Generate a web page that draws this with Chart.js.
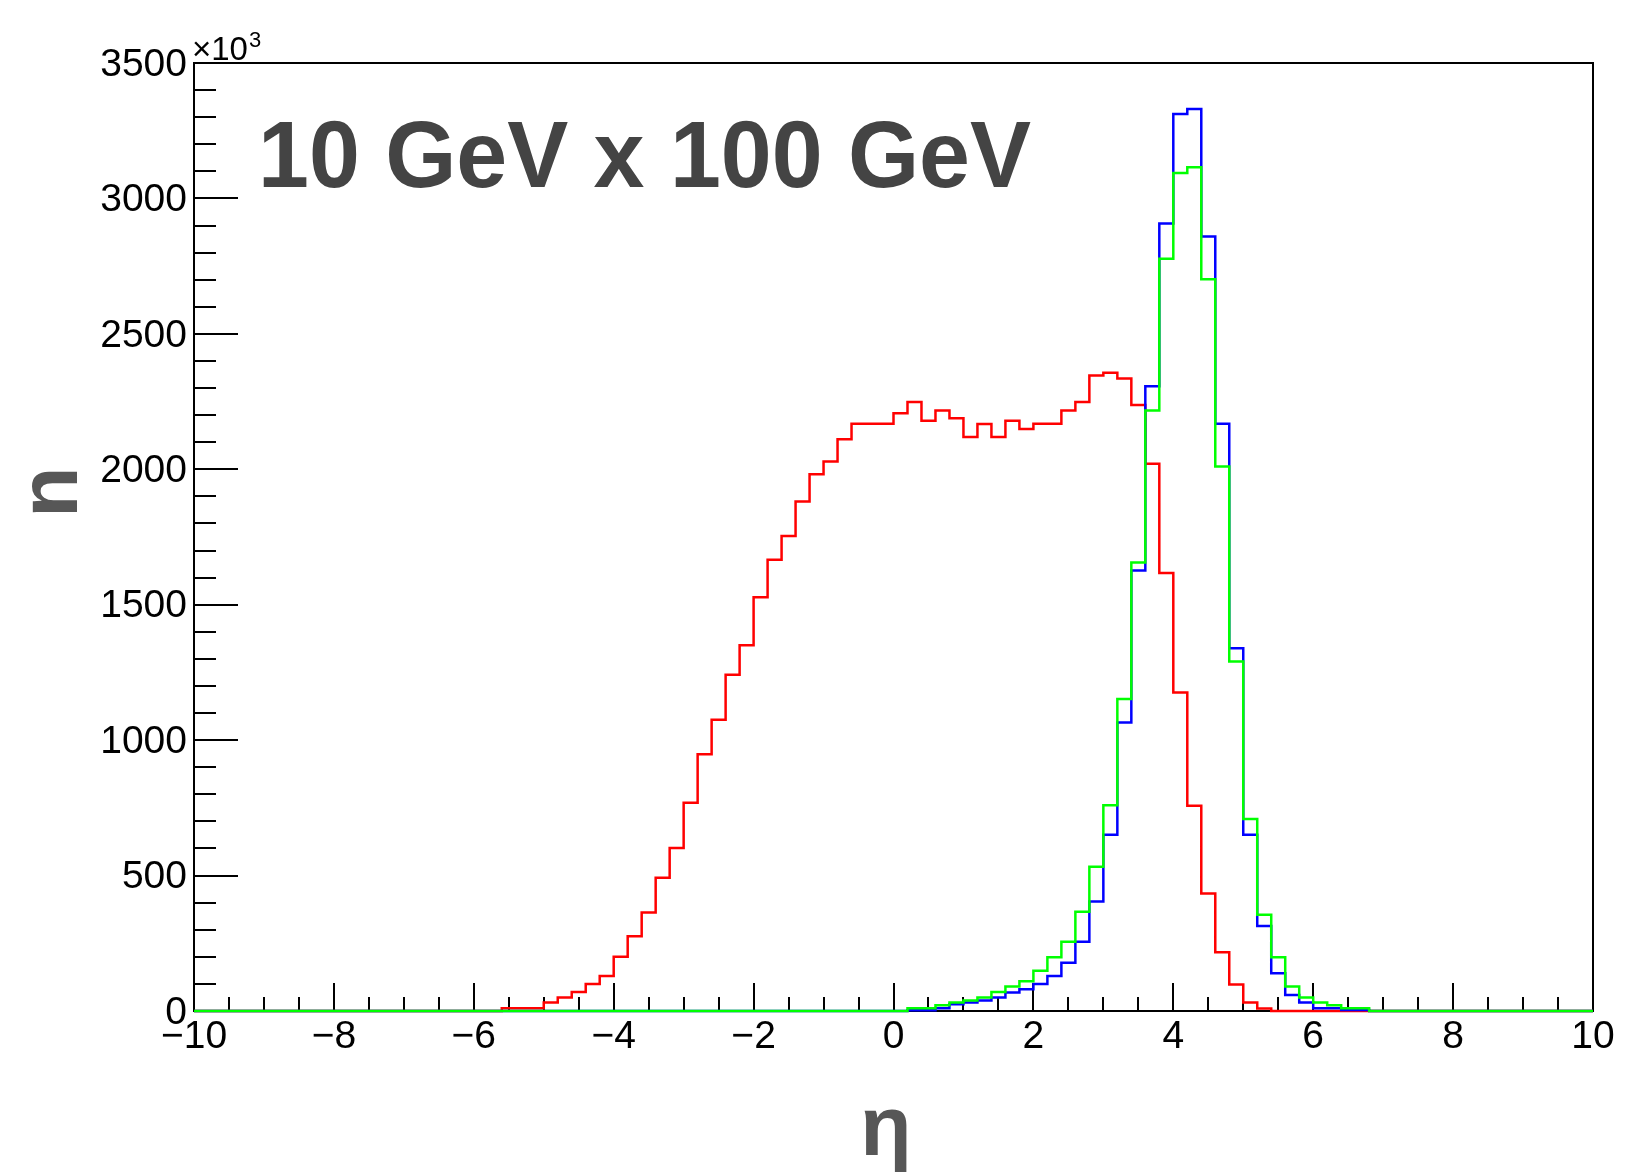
<!DOCTYPE html>
<html>
<head>
<meta charset="utf-8">
<script src="https://cdn.jsdelivr.net/npm/chart.js@4.4.1/dist/chart.umd.min.js"></script>
<style>
  html, body { margin: 0; padding: 0; background: #fff; }
</style>
</head>
<body>
<canvas id="etaChart" width="1628" height="1176"></canvas>
<script>
// eta histograms, 100 bins from -10 to 10, counts in units of 10^3
const etaMin = -10;
const etaMax = 10;

const redCounts = [
  0, 0, 0, 0, 0, 0, 0, 0, 0, 0,
  0, 0, 0, 0, 0, 0, 0, 0, 0, 0,
  0, 0, 10, 10, 10, 31, 50, 70, 100, 129,
  200, 276, 364, 492, 602, 769, 948, 1075, 1241, 1350,
  1528, 1666, 1754, 1881, 1982, 2029, 2111, 2168, 2168, 2168,
  2207, 2248, 2179, 2217, 2188, 2119, 2167, 2119, 2179, 2149,
  2168, 2168, 2217, 2248, 2346, 2356, 2335, 2237, 2020, 1617,
  1176, 758, 434, 217, 98, 31, 9, 0, 0, 0,
  0, 0, 0, 0, 0, 0, 0, 0, 0, 0,
  0, 0, 0, 0, 0, 0, 0, 0, 0, 0
];

const blueCounts = [
  0, 0, 0, 0, 0, 0, 0, 0, 0, 0,
  0, 0, 0, 0, 0, 0, 0, 0, 0, 0,
  0, 0, 0, 0, 0, 0, 0, 0, 0, 0,
  0, 0, 0, 0, 0, 0, 0, 0, 0, 0,
  0, 0, 0, 0, 0, 0, 0, 0, 0, 0,
  0, 3, 3, 10, 25, 31, 39, 50, 68, 80,
  100, 129, 178, 256, 404, 651, 1065, 1626, 2307, 2907,
  3312, 3330, 2859, 2168, 1339, 651, 314, 139, 59, 31,
  10, 10, 4, 4, 0, 0, 0, 0, 0, 0,
  0, 0, 0, 0, 0, 0, 0, 0, 0, 0
];

const greenCounts = [
  0, 0, 0, 0, 0, 0, 0, 0, 0, 0,
  0, 0, 0, 0, 0, 0, 0, 0, 0, 0,
  0, 0, 0, 0, 0, 0, 0, 0, 0, 0,
  0, 0, 0, 0, 0, 0, 0, 0, 0, 0,
  0, 0, 0, 0, 0, 0, 0, 0, 0, 0,
  0, 10, 10, 21, 31, 39, 50, 70, 90, 110,
  149, 198, 256, 366, 533, 760, 1152, 1656, 2217, 2777,
  3094, 3115, 2702, 2010, 1290, 709, 355, 198, 90, 50,
  31, 21, 10, 10, 0, 0, 0, 0, 0, 0,
  0, 0, 0, 0, 0, 0, 0, 0, 0, 0
];

const xTickValues = [-10, -8, -6, -4, -2, 0, 2, 4, 6, 8, 10];
const yTickValues = [0, 500, 1000, 1500, 2000, 2500, 3000, 3500];

const titleText = "10 GeV x 100 GeV";
const FONT = "'Liberation Sans', Arial, Helvetica, sans-serif";

// bin lower edges plus the closing point at the upper edge
function histPoints(counts) {
  const w = (etaMax - etaMin) / counts.length;
  const pts = counts.map((c, i) => ({ x: etaMin + i * w, y: c }));
  pts.push({ x: etaMax, y: counts[counts.length - 1] });
  return pts;
}

function histLine(counts, color) {
  return {
    data: histPoints(counts),
    borderColor: color,
    borderWidth: 2.5,
    stepped: true,
    pointRadius: 0,
    fill: false,
    clip: false,
  };
}

// ROOT style frame with inward ticks, plus the texts
const rootFrame = {
  id: "rootFrame",
  beforeDatasetsDraw(chart) {
    const { ctx, chartArea: a, scales } = chart;
    const x = scales.x, y = scales.y;
    ctx.save();
    ctx.strokeStyle = "#000";
    ctx.lineWidth = 2;
    ctx.strokeRect(a.left, a.top, a.right - a.left, a.bottom - a.top);
    ctx.beginPath();
    for (let v = 0; v <= 3500; v += 100) {
      const py = Math.round(y.getPixelForValue(v));
      const len = v % 500 === 0 ? 44 : 22;
      ctx.moveTo(a.left, py);
      ctx.lineTo(a.left + len, py);
    }
    for (let k = 0; k <= 40; k++) {
      const px = Math.round(x.getPixelForValue(etaMin + k * 0.5));
      const len = k % 4 === 0 ? 28 : 14;
      ctx.moveTo(px, a.bottom);
      ctx.lineTo(px, a.bottom - len);
    }
    ctx.stroke();
    ctx.restore();
  },
  afterDraw(chart) {
    const { ctx, chartArea: a } = chart;
    ctx.save();

    // exponent
    ctx.fillStyle = "#000";
    ctx.textBaseline = "alphabetic";
    ctx.textAlign = "left";
    ctx.font = "33px " + FONT;
    ctx.fillText("\u00d710", a.left - 2, 60);
    const w10 = ctx.measureText("\u00d710").width;
    ctx.font = "22px " + FONT;
    ctx.fillText("3", a.left - 1 + w10, 47);

    // big label
    ctx.fillStyle = "#444444";
    ctx.font = "bold 94px " + FONT;
    const tw = ctx.measureText(titleText).width;
    ctx.translate(258, 187);
    ctx.scale(773 / tw, 1);
    ctx.fillText(titleText, 0, 0);
    ctx.setTransform(1, 0, 0, 1, 0, 0);

    // axis titles
    ctx.fillStyle = "#575757";
    ctx.font = "bold 84px " + FONT;
    ctx.textAlign = "center";
    ctx.fillText("\u03b7", 886, 1155);
    ctx.translate(77, 492);
    ctx.rotate(-Math.PI / 2);
    ctx.fillText("n", 0, 0);
    ctx.restore();
  },
};

const ctx = document.getElementById("etaChart").getContext("2d");
new Chart(ctx, {
  type: "line",
  data: {
    datasets: [
      histLine(greenCounts, "#00ff00"),
      histLine(blueCounts, "#0000ff"),
      histLine(redCounts, "#ff0000"),
    ],
  },
  options: {
    responsive: false,
    animation: false,
    devicePixelRatio: 1,
    layout: { padding: { top: 63, right: 35, left: 0, bottom: 0 } },
    plugins: {
      legend: { display: false },
      tooltip: { enabled: false },
    },
    scales: {
      x: {
        type: "linear",
        min: etaMin,
        max: etaMax,
        grid: { display: false, drawTicks: false },
        border: { display: false },
        afterBuildTicks: (scale) => {
          scale.ticks = xTickValues.map((v) => ({ value: v }));
        },
        afterFit: (scale) => {
          scale.height = 165;
        },
        ticks: {
          color: "#000",
          padding: 3,
          maxRotation: 0,
          font: { family: FONT, size: 39 },
          callback: (v) => (v < 0 ? "\u2212" + Math.abs(v) : String(v)),
        },
      },
      y: {
        type: "linear",
        min: 0,
        max: 3500,
        grid: { display: false, drawTicks: false },
        border: { display: false },
        afterBuildTicks: (scale) => {
          scale.ticks = yTickValues.map((v) => ({ value: v }));
        },
        afterFit: (scale) => {
          scale.width = 194;
        },
        ticks: {
          color: "#000",
          padding: 7,
          labelOffset: 2,
          font: { family: FONT, size: 39 },
          callback: (v) => String(v),
        },
      },
    },
  },
  plugins: [rootFrame],
});
</script>
</body>
</html>
